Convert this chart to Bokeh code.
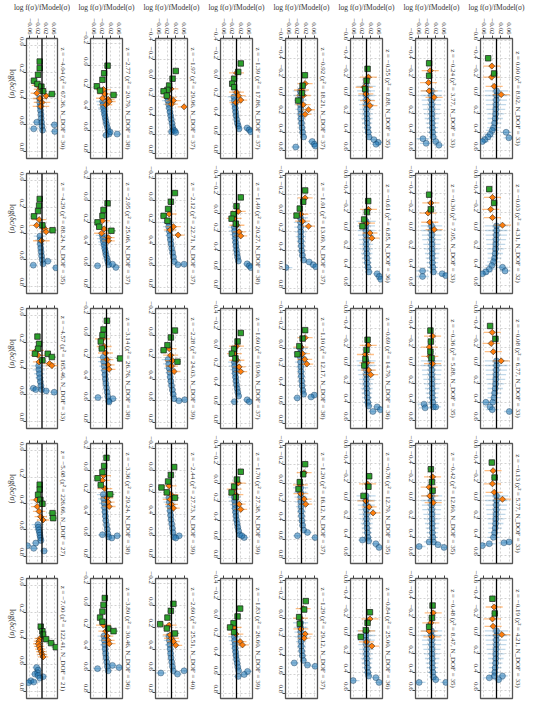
import math
from bokeh.plotting import figure
from bokeh.layouts import gridplot
from bokeh.models import Range1d, FixedTicker, Span, Title, ColumnDataSource, CustomJSTickFormatter
from bokeh.embed import file_html
from bokeh.resources import INLINE

# ---------------- data ----------------
Z = [[-4.04, -2.77, -1.97, -1.39, -0.92, -0.55, -0.24, 0.00],
     [-4.29, -2.95, -2.12, -1.49, -1.01, -0.61, -0.30, -0.03],
     [-4.57, -3.14, -2.28, -1.60, -1.10, -0.69, -0.36, -0.08],
     [-5.08, -3.36, -2.44, -1.70, -1.20, -0.76, -0.42, -0.13],
     [-7.00, -3.80, -2.60, -1.83, -1.29, -0.84, -0.48, -0.19]]
CHI2 = [[67.36, 20.79, 29.96, 17.86, 18.21, 8.88, 3.77, 8.92],
        [88.24, 25.06, 22.71, 20.27, 13.09, 6.85, 7.05, 4.31],
        [165.46, 26.76, 24.03, 19.90, 12.17, 14.79, 5.88, 6.77],
        [226.66, 29.24, 27.73, 27.38, 16.12, 12.79, 12.60, 5.77],
        [122.41, 30.46, 25.51, 26.60, 29.12, 25.00, 8.47, 4.21]]
NDOF = [[30, 38, 37, 37, 37, 35, 33, 33],
        [35, 37, 37, 38, 37, 36, 33, 32],
        [33, 38, 39, 37, 38, 36, 35, 33],
        [27, 38, 39, 39, 37, 35, 35, 33],
        [21, 36, 40, 39, 37, 36, 35, 33]]
# log(delta_c/sigma) axis limits per panel (top, bottom)
U_LO = [[-0.055, -0.25, -0.42, -0.42, -0.62, -0.62, -0.62, -0.62],
        [-0.055, -0.25, -0.25, -0.42, -0.42, -0.62, -0.62, -0.62],
        [-0.055, -0.25, -0.25, -0.42, -0.42, -0.62, -0.62, -0.62],
        [-0.055, -0.25, -0.25, -0.42, -0.42, -0.62, -0.62, -0.62],
        [-0.055, -0.25, -0.25, -0.42, -0.42, -0.62, -0.62, -0.62]]
U_HI = [[0.855, 0.855, 0.855, 0.855, 0.685, 0.685, 0.685, 0.685],
        [0.855, 0.855, 0.855, 0.855, 0.855, 0.685, 0.685, 0.685],
        [0.855, 0.855, 0.855, 0.855, 0.855, 0.685, 0.685, 0.685],
        [0.855, 0.855, 0.855, 0.855, 0.855, 0.685, 0.685, 0.685],
        [0.855, 0.855, 0.855, 0.855, 0.855, 0.685, 0.685, 0.685]]
V_TICKS = [-0.06, -0.02, 0.02, 0.06]
U_TICKS = [-0.6, -0.4, -0.2, 0.0, 0.2, 0.4, 0.6, 0.8]

# green squares (panels in row-major order)
GREEN_U = [
 [0.12, 0.17, 0.22, 0.265, 0.29, 0.31, 0.345, 0.366],
 [0.00, 0.07, 0.13, 0.19, 0.23, 0.27],
 [-0.075, 0.007, 0.08, 0.126, 0.14, 0.187],
 [-0.155, -0.065, 0.007, 0.06, 0.097],
 [-0.22, -0.107, -0.025, 0.055],
 [-0.29, -0.16, -0.07],
 [-0.35, -0.215],
 [-0.405, -0.24],
 [0.138, 0.188, 0.23, 0.27, 0.338, 0.375],
 [0.025, 0.086, 0.14, 0.20, 0.24, 0.277],
 [-0.07, 0.01, 0.077, 0.14, 0.185],
 [-0.166, -0.073, 0.013, 0.06, 0.113],
 [-0.24, -0.12, -0.047, 0.027],
 [-0.32, -0.20, -0.12, -0.046],
 [-0.39, -0.23],
 [-0.45, -0.30],
 [0.158, 0.213, 0.25, 0.288, 0.288, 0.313, 0.338],
 [-0.137, -0.057, -0.004, 0.054, 0.118, 0.21],
 [-0.047, 0.017, 0.088, 0.134, 0.24],
 [-0.16, -0.07, 0.01, 0.06, 0.11],
 [-0.19, -0.10, -0.02, 0.066],
 [-0.28, -0.17, -0.07, 0.0],
 [-0.38, -0.26, -0.15, -0.08],
 [-0.43, -0.29],
 [0.257, 0.295, 0.334, 0.372, 0.402, 0.473, 0.511],
 [-0.118, -0.043, 0.014, 0.07, 0.133, 0.218],
 [-0.033, 0.04, 0.10, 0.155, 0.20, 0.25],
 [-0.12, -0.037, 0.038, 0.10, 0.15],
 [-0.20, -0.093, -0.01, 0.064],
 [-0.264, -0.15, -0.05],
 [-0.34, -0.20, -0.107],
 [-0.413, -0.25],
 [0.31, 0.345, 0.37, 0.405, 0.435, 0.466],
 [-0.07, -0.007, 0.055, 0.11, 0.148, 0.21, 0.235],
 [-0.017, 0.048, 0.11, 0.17, 0.21, 0.256],
 [-0.10, -0.017, 0.055, 0.10, 0.15],
 [-0.18, -0.09, -0.01, 0.062],
 [-0.253, -0.138, -0.058, 0.014],
 [-0.326, -0.192, -0.095],
 [-0.40, -0.24]]
GREEN_V = [
 [-0.011, -0.011, -0.019, -0.039, -0.022, -0.003, 0.005, 0.048],
 [0.005, -0.011, -0.019, -0.045, -0.030, 0.033],
 [0.020, 0.005, -0.011, -0.019, -0.037, -0.022],
 [0.020, 0.008, -0.011, -0.020, -0.011],
 [0.016, 0.005, 0.002, -0.016],
 [0.005, 0.0, -0.006],
 [-0.011, -0.011],
 [-0.039, -0.011],
 [-0.011, -0.014, -0.019, -0.039, 0.002, 0.051],
 [0.005, -0.014, -0.019, -0.042, -0.034, 0.023],
 [0.016, -0.003, -0.016, -0.037, -0.019],
 [0.020, 0.0, -0.014, -0.023, -0.003],
 [0.017, 0.008, -0.008, -0.023],
 [0.008, 0.002, -0.011, -0.019],
 [-0.011, -0.003],
 [-0.034, -0.011],
 [-0.022, -0.014, -0.019, -0.034, 0.028, 0.048, 0.002],
 [0.002, -0.014, -0.019, -0.027, -0.022, 0.064],
 [0.016, -0.003, -0.019, -0.037, 0.028],
 [0.020, 0.005, -0.011, -0.022, -0.005],
 [0.017, 0.005, -0.010, -0.019],
 [0.005, 0.0, -0.005, -0.010],
 [-0.005, -0.003, -0.005, 0.0],
 [-0.030, -0.005],
 [-0.011, -0.011, -0.019, -0.008, 0.002, 0.051, 0.054],
 [0.0, -0.011, -0.019, -0.042, -0.027, 0.017],
 [0.0125, -0.003, -0.016, -0.047, -0.022, 0.016],
 [0.020, 0.002, -0.011, -0.023, -0.003],
 [0.017, 0.008, -0.008, -0.014],
 [0.0125, 0.009, -0.014],
 [-0.003, 0.002, 0.005],
 [-0.022, -0.009],
 [-0.006, 0.002, 0.005, 0.020, 0.044, 0.067],
 [-0.008, -0.014, -0.019, -0.030, -0.019, 0.008, 0.033],
 [0.009, -0.003, -0.019, -0.053, -0.022, 0.016],
 [0.017, 0.005, -0.014, -0.030, -0.011],
 [0.020, 0.0125, -0.011, -0.008],
 [0.016, 0.005, -0.003, -0.027],
 [0.005, 0.002, -0.011],
 [-0.019, -0.008]]
GREEN_E = [
 [0.006, 0.008, 0.010, 0.015, 0.020, 0.015, 0.020, 0.020],
 [0.006, 0.008, 0.010, 0.015, 0.015, 0.020],
 [0.006, 0.008, 0.010, 0.012, 0.015, 0.015],
 [0.006, 0.008, 0.010, 0.012, 0.012],
 [0.006, 0.008, 0.010, 0.012],
 [0.008, 0.010, 0.012],
 [0.012, 0.015],
 [0.012, 0.015],
 [0.006, 0.008, 0.010, 0.015, 0.015, 0.020],
 [0.006, 0.008, 0.010, 0.015, 0.015, 0.020],
 [0.006, 0.008, 0.010, 0.015, 0.015],
 [0.006, 0.008, 0.010, 0.012, 0.012],
 [0.006, 0.008, 0.010, 0.012],
 [0.008, 0.010, 0.012, 0.015],
 [0.012, 0.015],
 [0.012, 0.015],
 [0.006, 0.008, 0.010, 0.015, 0.015, 0.020, 0.015],
 [0.006, 0.008, 0.010, 0.012, 0.015, 0.020],
 [0.006, 0.008, 0.010, 0.015, 0.015],
 [0.006, 0.008, 0.010, 0.012, 0.012],
 [0.006, 0.008, 0.010, 0.012],
 [0.008, 0.010, 0.012, 0.015],
 [0.012, 0.012, 0.015, 0.015],
 [0.012, 0.015],
 [0.006, 0.008, 0.010, 0.012, 0.015, 0.020, 0.020],
 [0.006, 0.008, 0.010, 0.015, 0.015, 0.020],
 [0.006, 0.008, 0.010, 0.015, 0.015, 0.020],
 [0.006, 0.008, 0.010, 0.012, 0.012],
 [0.006, 0.008, 0.010, 0.012],
 [0.008, 0.010, 0.012],
 [0.012, 0.012, 0.015],
 [0.012, 0.015],
 [0.010, 0.012, 0.015, 0.015, 0.020, 0.020],
 [0.006, 0.008, 0.010, 0.012, 0.015, 0.015, 0.020],
 [0.006, 0.008, 0.010, 0.015, 0.015, 0.020],
 [0.006, 0.008, 0.010, 0.012, 0.012],
 [0.006, 0.008, 0.010, 0.012],
 [0.008, 0.010, 0.012, 0.015],
 [0.012, 0.012, 0.015],
 [0.012, 0.015]]

# orange diamonds
ORANGE_U = [
 [0.30, 0.33, 0.36, 0.38, 0.40, 0.43, 0.46],
 [0.22, 0.26, 0.30, 0.31, 0.33, 0.36],
 [0.115, 0.205, 0.24, 0.277, 0.306],
 [-0.054, 0.15, 0.187, 0.234, 0.26],
 [-0.13, -0.06, 0.0, 0.10, 0.155, 0.205],
 [-0.20, -0.09, -0.017, 0.055, 0.11],
 [-0.27, -0.14, -0.05, 0.02],
 [-0.32, -0.20, -0.10, -0.01],
 [0.295, 0.338, 0.363, 0.387, 0.455],
 [0.185, 0.26, 0.30, 0.34, 0.37],
 [0.123, 0.24, 0.27, 0.317],
 [-0.017, 0.057, 0.13, 0.20, 0.243],
 [-0.16, 0.013, 0.087, 0.14],
 [-0.23, -0.08, 0.027, 0.083],
 [-0.30, -0.19, -0.09, -0.01],
 [-0.36, -0.23, -0.14, -0.058],
 [0.263, 0.30, 0.35, 0.363, 0.378],
 [0.03, 0.10, 0.16, 0.22, 0.27, 0.31],
 [0.12, 0.18, 0.23, 0.28, 0.33],
 [-0.02, 0.06, 0.13, 0.20, 0.25],
 [-0.11, -0.01, 0.06, 0.12, 0.17],
 [-0.22, -0.12, -0.03, 0.05, 0.10],
 [-0.32, -0.20, -0.10, -0.02],
 [-0.36, -0.24, -0.15, -0.05],
 [0.372, 0.423, 0.46, 0.50, 0.525],
 [0.045, 0.09, 0.165, 0.25, 0.29, 0.33],
 [0.14, 0.22, 0.265, 0.31, 0.345],
 [0.0, 0.064, 0.124, 0.225, 0.28],
 [-0.11, 0.02, 0.113, 0.17, 0.225],
 [-0.18, 0.004, 0.07, 0.135],
 [-0.257, -0.145, -0.05, 0.023],
 [-0.324, -0.182, -0.089, -0.014],
 [0.40, 0.42, 0.44, 0.46, 0.48, 0.50, 0.52, 0.54],
 [0.18, 0.235, 0.28, 0.32, 0.35],
 [0.18, 0.27, 0.30, 0.33, 0.365],
 [0.10, 0.17, 0.25, 0.286],
 [-0.10, 0.0, 0.116, 0.17, 0.214],
 [-0.18, -0.05, 0.07, 0.115],
 [-0.246, -0.138, -0.048, 0.014],
 [-0.31, -0.18, -0.10, -0.01]]
ORANGE_V = [
 [-0.020, -0.010, -0.025, 0.020, -0.010, 0.000, -0.005],
 [-0.014, -0.008, -0.019, 0.008, 0.013, -0.003],
 [-0.003, -0.011, 0.009, 0.0, 0.059],
 [0.0, 0.0, 0.008, 0.020, -0.003],
 [0.017, 0.0, 0.008, 0.008, 0.033, 0.017],
 [0.009, -0.011, -0.003, 0.005, 0.016],
 [-0.006, -0.014, -0.011, 0.012],
 [-0.022, -0.023, -0.011, 0.022],
 [-0.014, -0.026, 0.0125, 0.020, -0.003],
 [-0.019, -0.011, -0.023, 0.008, 0.009],
 [-0.011, 0.009, -0.006, 0.031],
 [0.008, -0.011, 0.002, 0.0125, 0.020],
 [0.017, -0.003, 0.005, 0.033],
 [0.009, 0.0, 0.016, 0.025],
 [-0.003, -0.016, -0.008, 0.0125],
 [-0.019, -0.027, -0.019, 0.028],
 [-0.026, -0.019, -0.014, 0.036, 0.048],
 [-0.019, -0.011, -0.005, 0.002, 0.008, 0.012],
 [-0.011, -0.004, 0.004, 0.0, 0.012],
 [0.0, -0.010, 0.002, 0.012, 0.020],
 [0.017, -0.003, 0.005, 0.015, 0.025],
 [0.008, -0.005, 0.002, 0.010, 0.020],
 [0.005, -0.010, -0.008, 0.005],
 [-0.020, -0.025, -0.015, 0.022],
 [-0.026, -0.023, -0.014, -0.006, 0.005],
 [-0.014, -0.019, -0.008, 0.002, 0.008, 0.0125],
 [-0.011, -0.003, -0.006, 0.0, 0.009],
 [0.008, -0.011, -0.003, 0.0125, 0.020],
 [0.0125, -0.005, -0.003, 0.0125, 0.020],
 [0.005, -0.003, 0.0125, 0.031],
 [0.005, -0.011, -0.008, 0.008],
 [-0.016, -0.019, -0.011, 0.028],
 [-0.010, -0.015, -0.018, -0.014, -0.009, -0.004, 0.0, 0.005],
 [-0.014, -0.003, 0.002, 0.008, 0.0125],
 [-0.011, -0.006, 0.0, 0.009, 0.020],
 [-0.011, -0.003, 0.017, 0.028],
 [0.008, -0.005, -0.003, 0.017, 0.0125],
 [0.016, 0.0, 0.0, 0.025],
 [0.008, -0.003, -0.011, 0.002],
 [-0.011, -0.019, -0.016, 0.025]]
ORANGE_E = [
 [0.030, 0.030, 0.030, 0.030, 0.035, 0.040, 0.040],
 [0.035, 0.035, 0.030, 0.030, 0.030, 0.030],
 [0.035, 0.035, 0.035, 0.030, 0.030],
 [0.035, 0.035, 0.035, 0.030, 0.030],
 [0.035, 0.035, 0.035, 0.035, 0.030, 0.030],
 [0.040, 0.040, 0.035, 0.035, 0.035],
 [0.040, 0.040, 0.040, 0.040],
 [0.040, 0.040, 0.040, 0.040],
 [0.035, 0.035, 0.030, 0.030, 0.040],
 [0.035, 0.035, 0.035, 0.030, 0.030],
 [0.035, 0.035, 0.030, 0.030],
 [0.035, 0.035, 0.035, 0.030, 0.030],
 [0.035, 0.035, 0.035, 0.030],
 [0.040, 0.040, 0.035, 0.035],
 [0.040, 0.040, 0.040, 0.040],
 [0.040, 0.040, 0.040, 0.040],
 [0.035, 0.035, 0.030, 0.030, 0.030],
 [0.035, 0.035, 0.035, 0.030, 0.030, 0.030],
 [0.035, 0.035, 0.035, 0.030, 0.030],
 [0.035, 0.035, 0.035, 0.030, 0.030],
 [0.035, 0.035, 0.035, 0.035, 0.030],
 [0.040, 0.040, 0.035, 0.035, 0.035],
 [0.040, 0.040, 0.040, 0.040],
 [0.040, 0.040, 0.040, 0.040],
 [0.030, 0.030, 0.030, 0.030, 0.030],
 [0.035, 0.035, 0.035, 0.030, 0.030, 0.030],
 [0.035, 0.035, 0.035, 0.030, 0.030],
 [0.035, 0.035, 0.035, 0.030, 0.030],
 [0.035, 0.035, 0.035, 0.035, 0.030],
 [0.040, 0.040, 0.035, 0.035],
 [0.040, 0.040, 0.040, 0.040],
 [0.040, 0.040, 0.040, 0.040],
 [0.025, 0.025, 0.025, 0.025, 0.025, 0.025, 0.025, 0.025],
 [0.035, 0.035, 0.030, 0.030, 0.030],
 [0.035, 0.035, 0.035, 0.030, 0.030],
 [0.035, 0.035, 0.030, 0.030],
 [0.035, 0.035, 0.035, 0.035, 0.030],
 [0.040, 0.040, 0.035, 0.035],
 [0.040, 0.040, 0.040, 0.040],
 [0.040, 0.040, 0.040, 0.040]]

# blue circles
BLUE_U = [
 [0.40, 0.43, 0.46, 0.49, 0.52, 0.55, 0.58, 0.61, 0.64, 0.58, 0.60, 0.63, 0.65],
 [0.33, 0.36, 0.39, 0.42, 0.45, 0.48, 0.51, 0.54, 0.57, 0.60, 0.63, 0.61, 0.63, 0.64],
 [0.20, 0.24, 0.28, 0.32, 0.36, 0.40, 0.44, 0.48, 0.52, 0.55, 0.56, 0.57, 0.58],
 [0.20, 0.24, 0.28, 0.32, 0.36, 0.40, 0.44, 0.48, 0.51, 0.54, 0.53, 0.55, 0.57],
 [-0.05, 0.00, 0.05, 0.10, 0.15, 0.20, 0.25, 0.30, 0.35, 0.40, 0.45, 0.50, 0.53, 0.55, 0.56],
 [-0.10, -0.05, 0.00, 0.05, 0.10, 0.15, 0.20, 0.25, 0.30, 0.35, 0.40, 0.45, 0.48, 0.51, 0.53],
 [-0.05, 0.00, 0.05, 0.10, 0.15, 0.20, 0.25, 0.30, 0.35, 0.40, 0.45, 0.47, 0.50, 0.52, 0.54],
 [-0.05, 0.00, 0.05, 0.10, 0.15, 0.20, 0.25, 0.30, 0.35, 0.38, 0.42, 0.45, 0.48, 0.50, 0.40, 0.46],
 [0.42, 0.45, 0.48, 0.51, 0.54, 0.57, 0.60, 0.63, 0.64, 0.61, 0.66],
 [0.32, 0.35, 0.38, 0.41, 0.44, 0.47, 0.50, 0.53, 0.56, 0.59, 0.60, 0.615, 0.585],
 [0.20, 0.24, 0.28, 0.32, 0.36, 0.40, 0.44, 0.48, 0.52, 0.56, 0.585, 0.59],
 [0.15, 0.19, 0.23, 0.27, 0.31, 0.35, 0.39, 0.43, 0.47, 0.51, 0.54, 0.56, 0.58],
 [0.05, 0.10, 0.15, 0.20, 0.25, 0.30, 0.35, 0.40, 0.45, 0.50, 0.52, 0.55, 0.57, 0.58],
 [-0.10, -0.05, 0.00, 0.05, 0.10, 0.15, 0.20, 0.25, 0.30, 0.35, 0.40, 0.45, 0.47, 0.50, 0.53],
 [-0.05, 0.00, 0.05, 0.10, 0.15, 0.20, 0.25, 0.30, 0.35, 0.40, 0.45, 0.44, 0.50, 0.47, 0.49],
 [-0.05, 0.00, 0.05, 0.10, 0.15, 0.20, 0.25, 0.30, 0.34, 0.38, 0.42, 0.45, 0.47, 0.40, 0.44],
 [0.38, 0.41, 0.44, 0.47, 0.50, 0.53, 0.56, 0.55, 0.57, 0.58, 0.56],
 [0.20, 0.24, 0.28, 0.32, 0.36, 0.40, 0.44, 0.48, 0.52, 0.56, 0.60, 0.57, 0.58, 0.61],
 [0.22, 0.26, 0.30, 0.34, 0.38, 0.42, 0.46, 0.50, 0.54, 0.58, 0.59, 0.60],
 [0.15, 0.19, 0.23, 0.27, 0.31, 0.35, 0.39, 0.43, 0.47, 0.51, 0.55, 0.57, 0.57],
 [0.00, 0.05, 0.10, 0.15, 0.20, 0.25, 0.30, 0.35, 0.40, 0.45, 0.49, 0.50, 0.52, 0.53],
 [-0.05, 0.00, 0.05, 0.10, 0.15, 0.20, 0.25, 0.30, 0.35, 0.40, 0.44, 0.45, 0.48, 0.50],
 [-0.05, 0.00, 0.05, 0.10, 0.15, 0.20, 0.25, 0.30, 0.35, 0.40, 0.45, 0.42, 0.46, 0.45],
 [-0.05, 0.00, 0.05, 0.10, 0.15, 0.20, 0.25, 0.30, 0.35, 0.40, 0.40, 0.45, 0.48, 0.50],
 [0.56, 0.58, 0.60, 0.62, 0.64, 0.66, 0.68, 0.70, 0.72, 0.74, 0.76],
 [0.22, 0.26, 0.30, 0.34, 0.38, 0.42, 0.46, 0.50, 0.54, 0.58, 0.61, 0.60, 0.59, 0.62],
 [0.25, 0.29, 0.33, 0.37, 0.41, 0.45, 0.49, 0.53, 0.57, 0.61, 0.60, 0.62],
 [0.15, 0.19, 0.23, 0.27, 0.31, 0.35, 0.39, 0.43, 0.47, 0.51, 0.55, 0.58, 0.56],
 [0.05, 0.10, 0.15, 0.20, 0.25, 0.30, 0.35, 0.40, 0.45, 0.50, 0.525, 0.56, 0.58],
 [-0.05, 0.00, 0.05, 0.10, 0.15, 0.20, 0.25, 0.30, 0.35, 0.40, 0.44, 0.43, 0.47, 0.51],
 [-0.05, 0.00, 0.05, 0.10, 0.15, 0.20, 0.25, 0.30, 0.35, 0.40, 0.45, 0.50, 0.45, 0.51, 0.48],
 [-0.05, 0.00, 0.05, 0.10, 0.15, 0.20, 0.25, 0.30, 0.35, 0.40, 0.47, 0.49, 0.45, 0.46],
 [0.62, 0.64, 0.66, 0.67, 0.68, 0.69, 0.70, 0.72, 0.735, 0.73],
 [0.28, 0.32, 0.36, 0.40, 0.44, 0.48, 0.52, 0.56, 0.60, 0.58, 0.57, 0.55],
 [0.28, 0.32, 0.36, 0.40, 0.44, 0.48, 0.52, 0.56, 0.60, 0.62, 0.60, 0.63],
 [0.20, 0.24, 0.28, 0.32, 0.36, 0.40, 0.44, 0.48, 0.52, 0.56, 0.567, 0.60, 0.62],
 [0.05, 0.10, 0.15, 0.20, 0.25, 0.30, 0.35, 0.40, 0.45, 0.477, 0.513, 0.50],
 [-0.05, 0.00, 0.05, 0.10, 0.15, 0.20, 0.25, 0.30, 0.35, 0.40, 0.44, 0.49, 0.458, 0.51],
 [-0.05, 0.00, 0.05, 0.10, 0.15, 0.20, 0.25, 0.30, 0.35, 0.40, 0.45, 0.51, 0.51, 0.48],
 [-0.05, 0.00, 0.05, 0.10, 0.15, 0.20, 0.25, 0.30, 0.35, 0.40, 0.44, 0.46, 0.44, 0.48]]
BLUE_V = [
 [-0.012, -0.011, -0.009, -0.007, -0.005, -0.004, -0.002, 0.000, 0.003, -0.025, 0.060, -0.040, 0.062],
 [-0.018, -0.016, -0.014, -0.011, -0.009, -0.006, -0.003, 0.000, 0.004, 0.008, 0.012, 0.017, 0.050, -0.002],
 [-0.020, -0.017, -0.013, -0.010, -0.007, -0.004, -0.001, 0.002, 0.005, 0.008, 0.015, 0.000, 0.020],
 [-0.012, -0.010, -0.008, -0.006, -0.004, -0.002, 0.001, 0.004, 0.008, 0.012, 0.050, 0.060, 0.067],
 [-0.006, -0.006, -0.005, -0.005, -0.004, -0.003, -0.002, 0.000, 0.002, 0.005, 0.010, 0.050, 0.060, 0.065, -0.027],
 [-0.002, -0.002, -0.001, -0.001, 0.000, 0.000, 0.001, 0.002, 0.003, 0.005, 0.008, 0.012, 0.035, 0.055, 0.045],
 [0.000, 0.000, 0.000, 0.001, 0.001, 0.002, 0.002, 0.003, 0.004, 0.005, 0.008, -0.040, 0.020, -0.025, 0.035],
 [0.000, 0.000, -0.001, -0.002, -0.003, -0.004, -0.006, -0.009, -0.014, -0.020, -0.030, -0.040, -0.055, -0.066, 0.045, 0.058],
 [-0.010, -0.009, -0.008, -0.006, -0.004, -0.002, 0.001, 0.005, -0.042, 0.028, 0.067],
 [-0.020, -0.017, -0.014, -0.011, -0.008, -0.005, -0.002, 0.002, 0.006, 0.010, -0.042, 0.044, 0.028],
 [-0.015, -0.013, -0.010, -0.008, -0.005, -0.002, 0.001, 0.005, 0.009, 0.013, 0.059, 0.030],
 [-0.010, -0.009, -0.007, -0.005, -0.004, -0.002, 0.000, 0.002, 0.005, 0.009, 0.050, 0.060, 0.067],
 [-0.005, -0.004, -0.004, -0.003, -0.003, -0.002, -0.001, 0.001, 0.004, 0.010, 0.036, 0.055, 0.067, -0.073],
 [-0.002, -0.002, -0.002, -0.002, -0.001, -0.001, 0.000, 0.001, 0.002, 0.004, 0.007, 0.011, 0.050, 0.060, 0.067],
 [0.000, 0.000, 0.001, 0.001, 0.002, 0.002, 0.003, 0.003, 0.004, 0.006, 0.009, -0.042, -0.042, 0.050, 0.067],
 [0.000, 0.000, -0.001, -0.002, -0.003, -0.004, -0.006, -0.009, -0.014, -0.022, -0.034, -0.050, -0.066, 0.028, 0.040],
 [-0.016, -0.015, -0.013, -0.011, -0.008, -0.005, -0.002, -0.042, 0.020, 0.059, -0.030],
 [-0.015, -0.013, -0.011, -0.009, -0.007, -0.005, -0.003, 0.000, 0.003, 0.006, 0.010, -0.040, 0.030, 0.012],
 [-0.016, -0.013, -0.011, -0.008, -0.006, -0.003, 0.000, 0.004, 0.008, 0.012, 0.062, 0.035],
 [-0.010, -0.009, -0.007, -0.006, -0.004, -0.002, 0.000, 0.003, 0.006, 0.010, 0.050, 0.060, -0.010],
 [-0.005, -0.005, -0.004, -0.004, -0.003, -0.002, -0.001, 0.001, 0.003, 0.006, 0.010, 0.060, 0.045, -0.020],
 [-0.002, -0.002, -0.001, -0.001, 0.000, 0.000, 0.001, 0.002, 0.004, 0.006, 0.010, 0.050, 0.065, 0.030],
 [0.000, 0.000, 0.001, 0.001, 0.002, 0.002, 0.003, 0.003, 0.004, 0.006, 0.009, -0.035, -0.030, 0.020],
 [0.000, 0.000, -0.001, -0.002, -0.003, -0.004, -0.006, -0.009, -0.012, -0.018, -0.050, -0.030, -0.020, 0.060],
 [-0.020, -0.018, -0.015, -0.012, -0.010, -0.008, -0.005, -0.030, -0.070, -0.040, 0.010],
 [-0.015, -0.013, -0.011, -0.009, -0.007, -0.005, -0.003, 0.000, 0.003, 0.006, 0.010, 0.050, -0.019, 0.025],
 [-0.012, -0.010, -0.008, -0.006, -0.004, -0.002, 0.001, 0.004, 0.007, 0.011, 0.036, 0.020],
 [-0.010, -0.009, -0.007, -0.006, -0.004, -0.002, 0.000, 0.003, 0.006, 0.010, 0.015, 0.036, 0.025],
 [-0.004, -0.004, -0.003, -0.003, -0.002, -0.001, 0.000, 0.002, 0.005, 0.010, 0.028, -0.019, 0.064],
 [-0.002, -0.002, -0.001, -0.001, 0.000, 0.000, 0.001, 0.002, 0.004, 0.006, 0.010, -0.019, 0.044, 0.059],
 [0.000, 0.000, 0.001, 0.001, 0.002, 0.002, 0.003, 0.003, 0.004, 0.006, 0.009, -0.058, -0.011, 0.059, 0.030],
 [0.000, 0.000, -0.001, -0.001, -0.002, -0.003, -0.004, -0.006, -0.009, -0.014, -0.034, -0.066, 0.059, 0.035],
 [-0.026, -0.019, -0.022, -0.034, -0.019, 0.005, -0.010, -0.054, -0.065, -0.040],
 [-0.012, -0.010, -0.008, -0.006, -0.004, -0.002, 0.001, 0.004, 0.008, -0.042, 0.059, 0.028],
 [-0.012, -0.010, -0.008, -0.006, -0.004, -0.002, 0.001, 0.004, 0.008, -0.050, 0.059, 0.028],
 [-0.010, -0.009, -0.007, -0.006, -0.004, -0.002, 0.000, 0.003, 0.006, 0.010, 0.052, 0.036, 0.008],
 [-0.004, -0.004, -0.003, -0.003, -0.002, -0.001, 0.001, 0.004, 0.009, -0.034, 0.064, 0.028],
 [-0.002, -0.002, -0.001, -0.001, 0.000, 0.000, 0.001, 0.002, 0.004, 0.006, 0.010, -0.0625, 0.044, 0.059],
 [0.000, 0.000, 0.001, 0.001, 0.002, 0.002, 0.003, 0.003, 0.004, 0.006, 0.009, -0.058, 0.067, 0.020],
 [0.000, 0.000, -0.001, -0.001, -0.002, -0.003, -0.003, -0.004, -0.006, -0.008, -0.010, -0.034, 0.028, 0.010]]
BLUE_E = [
 [0.030, 0.025, 0.020, 0.015, 0.012, 0.010, 0.010, 0.012, 0.015, 0.020, 0.020, 0.025, 0.020],
 [0.030, 0.028, 0.025, 0.020, 0.016, 0.012, 0.010, 0.010, 0.010, 0.012, 0.015, 0.015, 0.020, 0.015],
 [0.030, 0.028, 0.025, 0.020, 0.016, 0.012, 0.010, 0.010, 0.010, 0.012, 0.015, 0.012, 0.015],
 [0.030, 0.025, 0.020, 0.018, 0.015, 0.012, 0.010, 0.010, 0.010, 0.012, 0.020, 0.020, 0.020],
 [0.035, 0.032, 0.030, 0.028, 0.025, 0.022, 0.018, 0.015, 0.012, 0.012, 0.015, 0.020, 0.020, 0.020, 0.020],
 [0.045, 0.042, 0.040, 0.038, 0.035, 0.032, 0.030, 0.027, 0.024, 0.020, 0.018, 0.018, 0.020, 0.020, 0.020],
 [0.050, 0.048, 0.046, 0.044, 0.040, 0.037, 0.034, 0.030, 0.027, 0.024, 0.020, 0.030, 0.025, 0.030, 0.025],
 [0.055, 0.052, 0.050, 0.047, 0.044, 0.040, 0.036, 0.032, 0.030, 0.030, 0.030, 0.030, 0.030, 0.030, 0.025, 0.025],
 [0.030, 0.025, 0.020, 0.015, 0.012, 0.010, 0.010, 0.012, 0.020, 0.020, 0.020],
 [0.030, 0.028, 0.025, 0.020, 0.016, 0.012, 0.010, 0.010, 0.010, 0.012, 0.015, 0.020, 0.020],
 [0.030, 0.027, 0.024, 0.020, 0.016, 0.012, 0.010, 0.010, 0.010, 0.012, 0.020, 0.020],
 [0.030, 0.027, 0.024, 0.020, 0.017, 0.014, 0.012, 0.010, 0.010, 0.012, 0.020, 0.020, 0.020],
 [0.035, 0.032, 0.030, 0.027, 0.024, 0.020, 0.017, 0.014, 0.012, 0.014, 0.020, 0.020, 0.020, 0.030],
 [0.045, 0.042, 0.040, 0.038, 0.035, 0.032, 0.030, 0.027, 0.024, 0.020, 0.018, 0.018, 0.020, 0.020, 0.020],
 [0.050, 0.048, 0.046, 0.044, 0.040, 0.037, 0.034, 0.030, 0.027, 0.024, 0.020, 0.030, 0.030, 0.025, 0.025],
 [0.055, 0.052, 0.050, 0.047, 0.044, 0.040, 0.036, 0.032, 0.030, 0.030, 0.030, 0.030, 0.030, 0.025, 0.025],
 [0.035, 0.030, 0.025, 0.020, 0.015, 0.012, 0.010, 0.020, 0.020, 0.020, 0.020],
 [0.030, 0.027, 0.024, 0.020, 0.017, 0.014, 0.012, 0.010, 0.010, 0.010, 0.012, 0.020, 0.020, 0.015],
 [0.030, 0.027, 0.024, 0.020, 0.016, 0.013, 0.010, 0.010, 0.010, 0.012, 0.020, 0.020],
 [0.030, 0.027, 0.024, 0.020, 0.017, 0.014, 0.012, 0.010, 0.010, 0.012, 0.020, 0.020, 0.020],
 [0.035, 0.032, 0.030, 0.027, 0.024, 0.020, 0.017, 0.014, 0.012, 0.012, 0.014, 0.020, 0.020, 0.020],
 [0.045, 0.042, 0.040, 0.037, 0.034, 0.031, 0.028, 0.025, 0.022, 0.020, 0.018, 0.020, 0.020, 0.020],
 [0.050, 0.048, 0.046, 0.044, 0.040, 0.037, 0.034, 0.030, 0.027, 0.024, 0.020, 0.030, 0.030, 0.025],
 [0.055, 0.052, 0.050, 0.047, 0.044, 0.040, 0.036, 0.032, 0.030, 0.030, 0.030, 0.030, 0.030, 0.025],
 [0.030, 0.025, 0.020, 0.018, 0.015, 0.012, 0.012, 0.020, 0.025, 0.020, 0.020],
 [0.030, 0.027, 0.024, 0.020, 0.017, 0.014, 0.012, 0.010, 0.010, 0.010, 0.012, 0.020, 0.020, 0.015],
 [0.030, 0.027, 0.023, 0.019, 0.015, 0.012, 0.010, 0.010, 0.010, 0.012, 0.020, 0.020],
 [0.030, 0.027, 0.024, 0.020, 0.017, 0.014, 0.012, 0.010, 0.010, 0.012, 0.014, 0.020, 0.020],
 [0.035, 0.032, 0.030, 0.027, 0.024, 0.020, 0.017, 0.014, 0.012, 0.014, 0.020, 0.020, 0.020],
 [0.045, 0.042, 0.040, 0.037, 0.034, 0.031, 0.028, 0.025, 0.022, 0.020, 0.018, 0.020, 0.020, 0.020],
 [0.050, 0.048, 0.046, 0.044, 0.040, 0.037, 0.034, 0.030, 0.027, 0.024, 0.020, 0.030, 0.025, 0.025, 0.025],
 [0.055, 0.052, 0.050, 0.047, 0.044, 0.040, 0.036, 0.032, 0.030, 0.030, 0.030, 0.030, 0.025, 0.025],
 [0.020, 0.020, 0.020, 0.020, 0.020, 0.020, 0.020, 0.030, 0.030, 0.030],
 [0.030, 0.026, 0.022, 0.018, 0.015, 0.012, 0.010, 0.010, 0.012, 0.020, 0.020, 0.020],
 [0.030, 0.026, 0.022, 0.018, 0.015, 0.012, 0.010, 0.010, 0.012, 0.025, 0.020, 0.020],
 [0.030, 0.027, 0.024, 0.020, 0.017, 0.014, 0.012, 0.010, 0.010, 0.012, 0.020, 0.020, 0.020],
 [0.035, 0.032, 0.030, 0.027, 0.024, 0.020, 0.017, 0.014, 0.012, 0.020, 0.020, 0.020],
 [0.045, 0.042, 0.040, 0.037, 0.034, 0.031, 0.028, 0.025, 0.022, 0.020, 0.018, 0.030, 0.020, 0.020],
 [0.050, 0.048, 0.046, 0.044, 0.040, 0.037, 0.034, 0.030, 0.027, 0.024, 0.020, 0.030, 0.025, 0.025],
 [0.055, 0.052, 0.050, 0.047, 0.044, 0.040, 0.036, 0.032, 0.030, 0.028, 0.026, 0.030, 0.025, 0.025]]

# ---------------- styling ----------------
FONT = "Liberation Serif"
TXT = "#333333"
FRAME_W, FRAME_H = 32, 120
RIGHT_B = 13

fmt_v = CustomJSTickFormatter(code="return tick.toFixed(2).replace('-', '\u2212');")
fmt_u = CustomJSTickFormatter(code="return tick.toFixed(1).replace('-', '\u2212');")
fmt_none = CustomJSTickFormatter(code="return '';")


def sgn(x, d):
    return f"{x:.{d}f}".replace("-", "\u2212")


def err_source(us, vs, es):
    return ColumnDataSource(dict(u=us, v0=[v - e for v, e in zip(vs, es)],
                                 v1=[v + e for v, e in zip(vs, es)]))


rows = []
for r in range(5):
    row = []
    for c in range(8):
        i = r * 8 + c
        left = 25 if c == 0 else 20
        top = 38 if r == 0 else 8
        bottom = 2 if r == 4 else 7
        p = figure(width=left + FRAME_W + RIGHT_B, height=top + FRAME_H + bottom,
                   x_range=Range1d(-0.075, 0.075),
                   y_range=Range1d(U_HI[r][c], U_LO[r][c]),
                   x_axis_location="above", output_backend="svg",
                   toolbar_location=None,
                   min_border_left=left, min_border_right=RIGHT_B,
                   min_border_top=top, min_border_bottom=bottom)
        p.background_fill_color = "white"
        p.border_fill_color = "white"
        p.outline_line_color = "#555555"
        p.outline_line_width = 1.3

        xa = p.xaxis[0]
        xa.ticker = FixedTicker(ticks=V_TICKS)
        xa.axis_line_color = None
        xa.major_tick_out = 3
        xa.major_tick_in = 0
        xa.major_tick_line_color = "#444444"
        xa.minor_tick_line_color = None
        xa.major_label_standoff = 1
        xa.major_label_text_font = FONT
        xa.major_label_text_font_size = "7px"
        xa.major_label_text_color = TXT
        if r == 0:
            xa.formatter = fmt_v
            xa.major_label_orientation = -math.pi / 2
            xa.axis_label = "log f(σ)/fModel(σ)"
            xa.axis_label_text_font = FONT
            xa.axis_label_text_font_style = "normal"
            xa.axis_label_text_font_size = "7.5px"
            xa.axis_label_text_color = TXT
            xa.axis_label_standoff = 3
        else:
            xa.formatter = fmt_none

        ya = p.yaxis[0]
        ya.ticker = FixedTicker(ticks=U_TICKS)
        ya.formatter = fmt_u
        ya.axis_line_color = None
        ya.major_tick_out = 3
        ya.major_tick_in = 0
        ya.major_tick_line_color = "#444444"
        ya.minor_tick_line_color = None
        ya.major_label_standoff = 2
        ya.major_label_orientation = -math.pi / 2
        ya.major_label_text_font = FONT
        ya.major_label_text_font_size = "7px"
        ya.major_label_text_color = TXT
        if c == 0:
            ya.axis_label = "log(δc/σ)"
            ya.axis_label_text_font = FONT
            ya.axis_label_text_font_style = "normal"
            ya.axis_label_text_font_size = "8px"
            ya.axis_label_text_color = TXT
            ya.axis_label_standoff = 2
            try:
                ya.axis_label_orientation = -math.pi / 2
            except Exception:
                pass

        for g in (p.xgrid[0], p.ygrid[0]):
            g.grid_line_color = "#c8c8c8"
            g.grid_line_dash = "2 2"
            g.grid_line_width = 0.8
        p.ygrid[0].ticker = FixedTicker(ticks=U_TICKS)
        p.xgrid[0].ticker = FixedTicker(ticks=V_TICKS)

        p.add_layout(Span(location=0, dimension="height", line_color="black", line_width=1.3))

        # blue
        p.segment(x0="v0", y0="u", x1="v1", y1="u",
                  source=err_source(BLUE_U[i], BLUE_V[i], BLUE_E[i]),
                  line_color="#1f77b4", line_alpha=0.28, line_width=1.3)
        p.scatter(BLUE_V[i], BLUE_U[i], marker="circle", size=6,
                  fill_color="#1f77b4", fill_alpha=0.55,
                  line_color="#0d2f4f", line_alpha=0.6, line_width=0.6)
        # orange
        p.segment(x0="v0", y0="u", x1="v1", y1="u",
                  source=err_source(ORANGE_U[i], ORANGE_V[i], ORANGE_E[i]),
                  line_color="#ff7f0e", line_alpha=0.5, line_width=1.3)
        p.scatter(ORANGE_V[i], ORANGE_U[i], marker="square", angle=math.pi / 4, size=4.3,
                  fill_color="#ff7f0e", line_color="#3a2a1a", line_width=0.6)
        # green
        p.segment(x0="v0", y0="u", x1="v1", y1="u",
                  source=err_source(GREEN_U[i], GREEN_V[i], GREEN_E[i]),
                  line_color="#2ca02c", line_alpha=0.6, line_width=1.3)
        p.scatter(GREEN_V[i], GREEN_U[i], marker="square", size=5.5,
                  fill_color="#2ca02c", line_color="#1a1a1a", line_width=0.7)

        title = (f"z = {sgn(Z[r][c], 2)} (χ² = {CHI2[r][c]:.2f}, "
                 f"N_DOF = {NDOF[r][c]})")
        p.add_layout(Title(text=title, align="center", text_font=FONT,
                           text_font_style="normal", text_font_size="7px",
                           text_color=TXT, standoff=2, offset=0), "right")
        row.append(p)
    rows.append(row)

grid = gridplot(rows, toolbar_location=None)
open("out.html", "w").write(file_html(grid, INLINE))
